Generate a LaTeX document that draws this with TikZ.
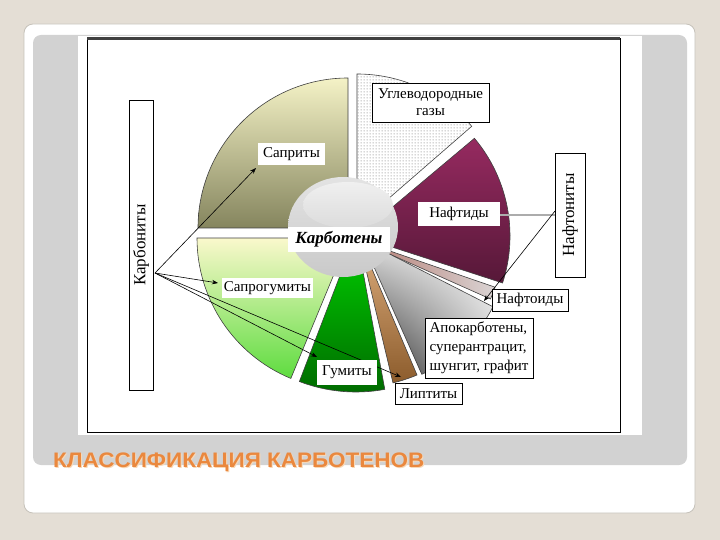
\documentclass[tikz,border=0pt]{standalone}
\usepackage{fontspec}
\setmainfont{Liberation Serif}
\newfontfamily\titlefont[FakeStretch=1.07]{Liberation Sans}
\usetikzlibrary{arrows.meta,patterns,shadings}
\pgfdeclarepatternformonly{gasdots}{\pgfpointorigin}{\pgfpoint{3pt}{3pt}}{\pgfpoint{3pt}{3pt}}%
  {\pgfpathcircle{\pgfpoint{1.5pt}{1.5pt}}{0.7pt}\pgfusepath{fill}}
\definecolor{bgbeige}{HTML}{E4DED5}
\definecolor{panelgray}{HTML}{D2D2D2}
\definecolor{cardedge}{HTML}{C6C2BA}
\definecolor{sapTop}{HTML}{F4F2C6}
\definecolor{sapBot}{HTML}{85855E}
\definecolor{nafTop}{HTML}{962A60}
\definecolor{nafBot}{HTML}{561838}
\definecolor{noidL}{HTML}{B47A70}
\definecolor{noidR}{HTML}{DAD4D4}
\definecolor{lipTop}{HTML}{E0B080}
\definecolor{lipBot}{HTML}{8C5C2C}
\definecolor{gumTop}{HTML}{00D200}
\definecolor{gumBot}{HTML}{006A00}
\definecolor{sgTop}{HTML}{FAF8CC}
\definecolor{sgBot}{HTML}{5EDC40}
\definecolor{titleorange}{HTML}{EA883E}
\definecolor{titleglow}{HTML}{F8D9B8}
\begin{document}
\begin{tikzpicture}[x=1pt,y=-1pt,
  slice/.style={draw=black!75,line width=0.6pt},
  lbl/.style={fill=white,inner sep=1pt,font=\fontsize{15}{18}\selectfont,text=black},
  blbl/.style={lbl,draw=black,line width=0.7pt},
  vlbl/.style={blbl,rotate=90,font=\fontsize{17}{20}\selectfont},
  arr/.style={draw=black,line width=0.6pt,-{Stealth[length=6pt,width=4.5pt]}}
]
\useasboundingbox (0,0) rectangle (720,540);
% background
\fill[bgbeige] (0,0) rectangle (720,540);
\fill[white,draw=cardedge,line width=0.8pt,rounded corners=9pt] (24,24) rectangle (695,513);
\fill[panelgray,rounded corners=8pt] (33,35) rectangle (687,465);
\fill[white] (78,36) rectangle (642,435);
\draw[black,line width=0.8pt] (87,38) rectangle (620,432);
\draw[black!75,line width=3pt] (87,38.5) -- (620,38.5);

% pie slices
\shade[slice,top color=sapTop,bottom color=sapBot]
  (348,228) -- ++(-90:150) arc[start angle=-90,end angle=-180,radius=150] -- cycle;
\path[slice,fill=white,postaction={pattern=gasdots,pattern color=gray!85}]
  (357,226) -- ++(-90:152) arc[start angle=-90,end angle=-41,radius=152] -- cycle;
\shade[slice,top color=nafTop,bottom color=nafBot]
  (358,236) -- ++(-40:152) arc[start angle=-40,end angle=18,radius=152] -- cycle;
\shade[slice,left color=noidL,right color=noidR]
  (358,240) -- ++(19:145) arc[start angle=19,end angle=24,radius=145] -- cycle;
\shade[slice,upper right=white,upper left=gray!25,lower right=gray!45,lower left=black!90]
  (362,240) -- ++(27:147) arc[start angle=27,end angle=66,radius=147] -- cycle;
\shade[slice,top color=lipTop,bottom color=lipBot]
  (358,236) -- ++(67:151) arc[start angle=67,end angle=76.6,radius=151] -- cycle;
\shade[slice,top color=gumTop,bottom color=gumBot]
  (356,234) -- ++(79.5:158) arc[start angle=79.5,end angle=111,radius=158] -- cycle;
\shade[slice,top color=sgTop,bottom color=sgBot]
  (349,238) -- ++(112.5:152) arc[start angle=112.5,end angle=180,radius=152] -- cycle;

% central disk
\shade[top color=gray!22,bottom color=gray!42] (343,227) ellipse [x radius=55,y radius=50];
\shade[top color=gray!12,bottom color=gray!28] (348,205) ellipse [x radius=45,y radius=23];

% connector origins and targets
\coordinate (korg) at (155,273);
\coordinate (norg) at (555,215);
\coordinate (norg2) at (555,211);
\coordinate (tsapr) at (256,168);
\coordinate (tsg) at (218,283);
\coordinate (tgum) at (317,357);
\coordinate (tlip) at (401,377);
\coordinate (tnaf) at (494,215);
\coordinate (tnoid) at (484,301);

\draw[arr] (korg) -- (tsapr);
\draw[arr] (korg) -- (tsg);
\draw[arr] (korg) -- (tgum);
\draw[arr] (korg) -- (tlip);
\draw[draw=gray!65,line width=2pt,-{Stealth[length=6pt,width=5pt,black]}] (norg) -- (tnaf);
\draw[arr] (norg2) -- (tnoid);

% labels
\node[lbl,minimum width=67pt,minimum height=22pt] (sapr) at (291.5,154) {Саприты};
\node[blbl,minimum width=117pt,minimum height=39pt,align=center,
      font=\fontsize{15}{17}\selectfont] (gas) at (430.5,102.5) {Углеводородные\\газы};
\node[lbl,minimum width=82pt,minimum height=24pt] (naftid) at (459,214) {Нафтиды};
\node[vlbl,minimum width=124pt,minimum height=30pt] (naftonit) at (570,215) {Нафтониты};
\node[blbl,minimum width=76pt,minimum height=22pt] (naftoid) at (530,300) {Нафтоиды};
\node[blbl,minimum width=108pt,minimum height=60pt,align=left,
      font=\fontsize{15}{19}\selectfont] (apo) at (479,348) {Апокарботены,\\суперантрацит,\\шунгит, графит};
\node[blbl,minimum width=67pt,minimum height=21pt] (lipt) at (428.5,393.5) {Липтиты};
\node[lbl,minimum width=60pt,minimum height=25pt] (gum) at (347,372.5) {Гумиты};
\node[lbl,minimum width=91pt,minimum height=20pt] (sapgum) at (267.5,288) {Сапрогумиты};
\node[vlbl,minimum width=290pt,minimum height=24pt] (karbonit) at (141,245) {Карбониты};
\node[lbl,minimum width=102pt,minimum height=25pt,
      font=\fontsize{17}{20}\selectfont\bfseries\itshape] (karboten) at (339,239.5) {Карботены};

% title
\node[anchor=base west,inner sep=0pt,text=titleglow,
      font=\titlefont\bfseries\fontsize{21}{25}\selectfont] (titleglowtxt) at (54,468.5) {КЛАССИФИКАЦИЯ КАРБОТЕНОВ};
\node[anchor=base west,inner sep=0pt,text=titleorange,
      font=\titlefont\bfseries\fontsize{21}{25}\selectfont] (title) at (53,467) {КЛАССИФИКАЦИЯ КАРБОТЕНОВ};
\end{tikzpicture}
\end{document}
